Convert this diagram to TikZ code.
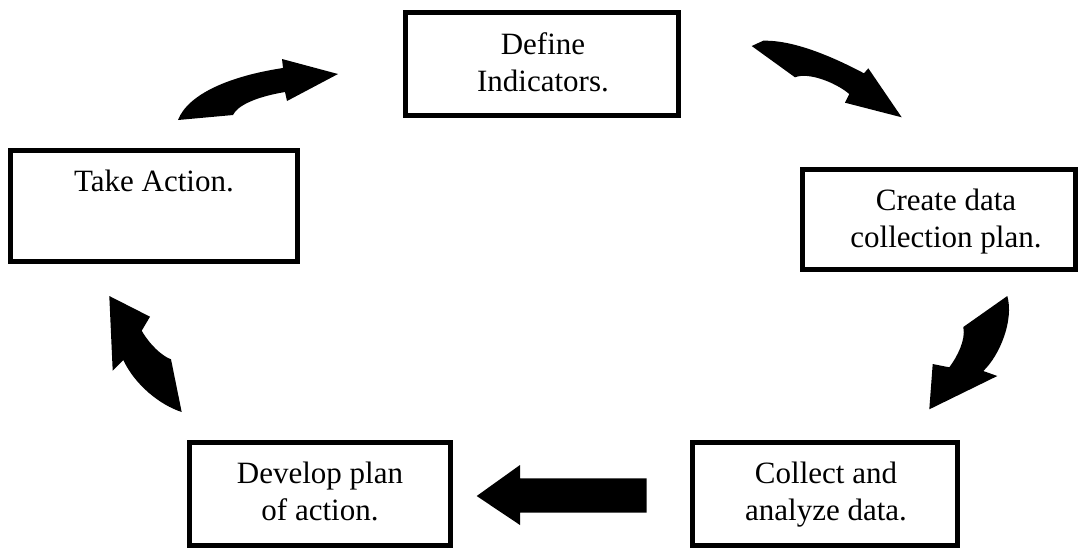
\documentclass[tikz,border=0pt]{standalone}
\usepackage{fontspec}
\setmainfont{Liberation Serif}
\usetikzlibrary{calc}
\begin{document}
\begin{tikzpicture}[x=1pt,y=-1pt,
  stepbox/.style={draw=black,line width=5pt,fill=white,rectangle,inner sep=0pt},
  boxtext/.style={anchor=north,inner sep=0pt,align=center,font=\fontsize{31}{37}\selectfont},
  blockarrow/.style={fill=black,draw=none}]
\useasboundingbox (0,0) rectangle (1081,550);
% boxes
\node[stepbox,minimum width=273pt,minimum height=103pt] (def) at (542,64) {};
\node[stepbox,minimum width=287pt,minimum height=111pt] (take) at (154,206) {};
\node[stepbox,minimum width=273pt,minimum height=100pt] (create) at (939,219.5) {};
\node[stepbox,minimum width=261pt,minimum height=103pt] (dev) at (320,494) {};
\node[stepbox,minimum width=265pt,minimum height=103pt] (coll) at (825,494) {};
% texts
\node[boxtext] (tdef) at (543,32) {Define\\Indicators.};
\node[boxtext] (ttake) at (154,170) {Take Action.};
\node[boxtext] (tcreate) at (946,189) {Create data\\collection plan.};
\node[boxtext] (tdev) at (320,462) {Develop plan\\of action.};
\node[boxtext] (tcoll) at (826,462) {Collect and\\analyze data.};
% block arrows
\fill[blockarrow] (178,120) .. controls (188,94) and (230,76) .. (283,68) -- (282,59) -- (338,74) -- (287,101) -- (285,92) .. controls (255,97) and (237,106) .. (233,115) -- cycle;
\fill[blockarrow] (751.7,46) -- (795,77.3) .. controls (808,72) and (835,82) .. (849.3,94) -- (845,102.7) -- (901.7,117.3) -- (868.3,68.3) -- (864,73.3) .. controls (835,58) and (795,40) .. (763.3,40.7) -- cycle;
\fill[blockarrow] (963.3,327) -- (1007.3,296) .. controls (1014,320) and (1000,355) .. (983.3,371) -- (997.3,376) -- (929.3,409.3) -- (932.7,364) -- (949.3,367.3) .. controls (957,357) and (966,340) .. (963.3,327) -- cycle;
\fill[blockarrow] (109.3,296) -- (150,316.7) -- (141.7,330.7) .. controls (150,345) and (162,356) .. (171,359.3) -- (181.7,412) .. controls (160,405) and (135,385) .. (123.3,360) -- (112.7,370.7) -- cycle;
\fill[blockarrow] (646.7,478.3) -- (520,478.3) -- (520,465) -- (476.7,496) -- (520,525) -- (520,512.7) -- (646.7,512.7) -- cycle;
\end{tikzpicture}
\end{document}
